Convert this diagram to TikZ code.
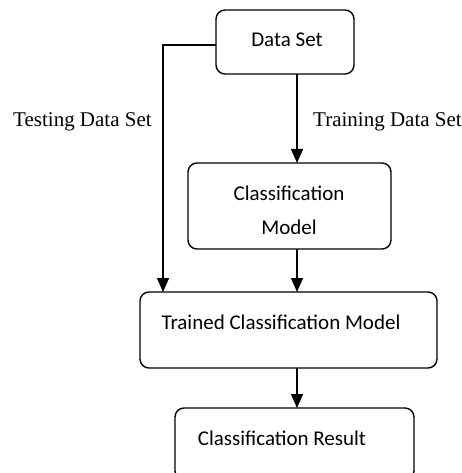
\documentclass[tikz,border=0pt]{standalone}
\usepackage{fontspec}
\setmainfont{Liberation Serif}
\newfontfamily\boxfont{Carlito}
\usetikzlibrary{arrows.meta,calc}
\begin{document}
\begin{tikzpicture}[x=1pt,y=-1pt,
  blk/.style={draw,line width=1.4pt,rounded corners=9pt,inner sep=0pt,outer sep=0pt},
  btxt/.style={font=\boxfont\fontsize{21}{26}\selectfont,inner sep=0pt,anchor=center},
  lbl/.style={font=\fontsize{21}{24}\selectfont,inner sep=0pt},
  arr/.style={line width=1.4pt,-{Triangle[length=14pt,width=12pt]}}]
\useasboundingbox (0,0) rectangle (462,473);
% boxes
\node[blk,minimum width=138pt,minimum height=64pt] (ds) at (285,42) {};
\node[blk,minimum width=203pt,minimum height=86pt] (cm) at (289.5,206) {};
\node[blk,minimum width=297pt,minimum height=76pt] (tm) at (288.5,330) {};
\node[blk,minimum width=239pt,minimum height=72pt] (cr) at (294.5,444) {};
% texts
\node[btxt] (dst) at (287,40) {Data Set};
\node[btxt] (cm1) at (289,193) {Classification};
\node[btxt] (cm2) at (289,227) {Model};
\node[btxt] (tmt) at (281,322) {Trained Classification Model};
\node[btxt] (crt) at (282,438) {Classification Result};
\node[lbl,anchor=west] (test) at (13,122) {Testing Data Set};
\node[lbl,anchor=west] (train) at (313,122) {Training Data Set};
% connectors
\coordinate (dsL) at (216,45);
\coordinate (corner) at (163,45);
\coordinate (tmTL) at (163,292);
\coordinate (dsB) at (297,74);
\coordinate (cmT) at (297,163);
\coordinate (cmB) at (297,249);
\coordinate (tmT) at (297,292);
\coordinate (tmB) at (297,368);
\coordinate (crT) at (297,408);
\draw[arr] (dsL) -- (corner) -- (tmTL);
\draw[arr] (dsB) -- (cmT);
\draw[arr] (cmB) -- (tmT);
\draw[arr] (tmB) -- (crT);
\end{tikzpicture}
\end{document}
